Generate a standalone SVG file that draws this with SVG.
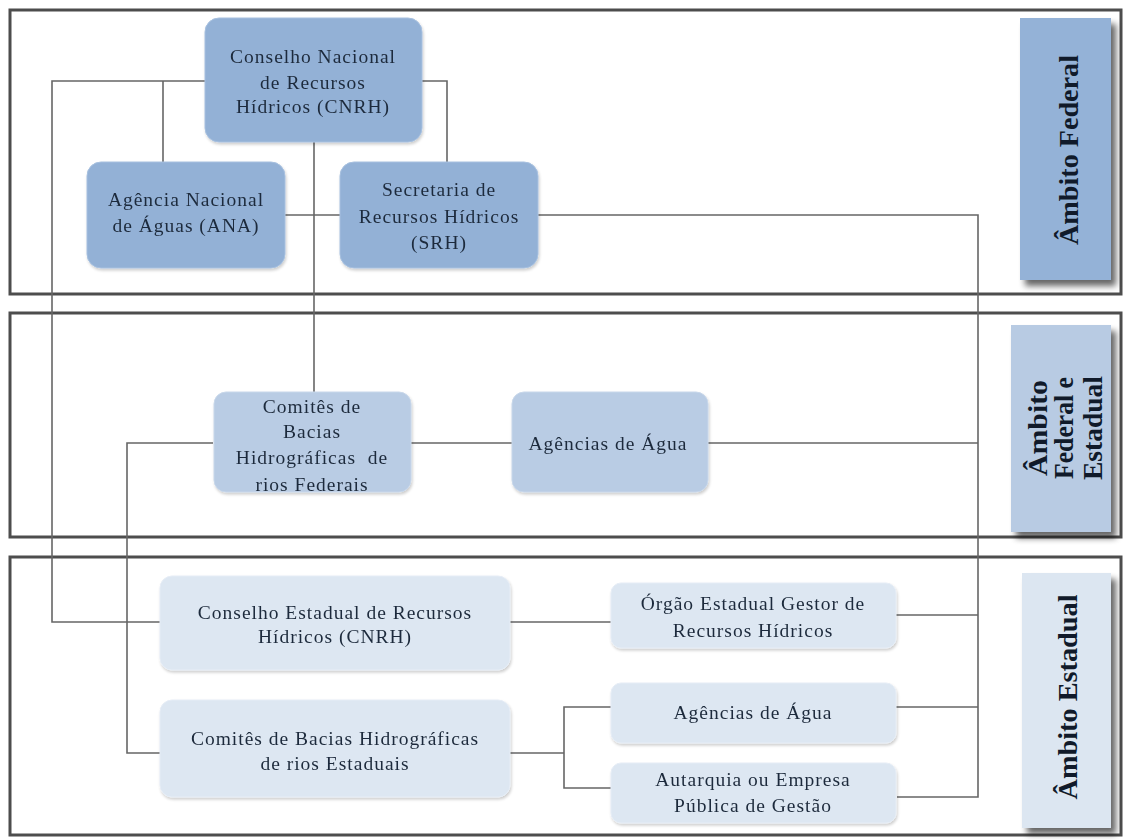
<svg xmlns="http://www.w3.org/2000/svg" width="1126" height="840" viewBox="0 0 1126 840">
<defs>
<filter id="sh" x="-10%" y="-10%" width="130%" height="130%">
<feGaussianBlur in="SourceAlpha" stdDeviation="3"/>
<feOffset dx="5" dy="6" result="b"/>
<feComponentTransfer><feFuncA type="linear" slope="0.6"/></feComponentTransfer>
<feMerge><feMergeNode/><feMergeNode in="SourceGraphic"/></feMerge>
</filter>
<filter id="nsh" x="-5%" y="-5%" width="110%" height="115%">
<feGaussianBlur in="SourceAlpha" stdDeviation="1.5"/>
<feOffset dx="1" dy="2"/>
<feComponentTransfer><feFuncA type="linear" slope="0.2"/></feComponentTransfer>
<feMerge><feMergeNode/><feMergeNode in="SourceGraphic"/></feMerge>
</filter>
</defs>
<style>
.panel{fill:none;stroke:#4d4d4d;stroke-width:3}
.c{fill:none;stroke:#666;stroke-width:1.6}
.n1{fill:#93b1d6;stroke:#a7c0df;stroke-width:1}
.n2{fill:#b9cce4;stroke:#c8d7ea;stroke-width:1}
.n3{fill:#dde7f2;stroke:#e6edf6;stroke-width:1}
.t{font-family:"Liberation Serif",serif;font-size:19.5px;letter-spacing:1px;fill:#1e2b3c;text-anchor:middle}
.lb{font-family:"Liberation Serif",serif;font-size:28px;font-weight:bold;fill:#101a2a;text-anchor:middle}
</style>
<rect width="1126" height="840" fill="#fff"/>

<g id="panels">
<rect class="panel" x="10" y="10" width="1111" height="284"/>
<rect class="panel" x="10" y="313" width="1111" height="224"/>
<rect class="panel" x="10" y="557" width="1111" height="278"/>
</g>

<g id="connectors">
<polyline class="c" points="205,81 52,81 52,622 160,622"/>
<polyline class="c" points="163,81 163,162"/>
<polyline class="c" points="420,81 447,81 447,162"/>
<line class="c" x1="314" y1="140" x2="314" y2="392"/>
<line class="c" x1="285" y1="215" x2="340" y2="215"/>
<polyline class="c" points="537,215 978,215 978,797 897,797"/>
<line class="c" x1="410" y1="443" x2="512" y2="443"/>
<line class="c" x1="708" y1="443" x2="978" y2="443"/>
<polyline class="c" points="213,443 127,443 127,753 160,753"/>
<line class="c" x1="510" y1="622" x2="611" y2="622"/>
<line class="c" x1="896" y1="615" x2="978" y2="615"/>
<line class="c" x1="896" y1="707" x2="978" y2="707"/>
<line class="c" x1="510" y1="753" x2="564" y2="753"/>
<polyline class="c" points="611,707 564,707 564,788 611,788"/>
</g>

<g id="label-federal">
<rect x="1020" y="18" width="91" height="262" fill="#94b2d7" filter="url(#sh)"/>
<text class="lb" transform="translate(1078,150) rotate(-90)" textLength="190" lengthAdjust="spacingAndGlyphs">Âmbito Federal</text>
</g>
<g id="label-federal-estadual">
<rect x="1011" y="325" width="100" height="207" fill="#b8cbe3" filter="url(#sh)"/>
<text class="lb" transform="translate(1047,428) rotate(-90)" textLength="96" lengthAdjust="spacingAndGlyphs">Âmbito</text>
<text class="lb" transform="translate(1073,428) rotate(-90)" textLength="102" lengthAdjust="spacingAndGlyphs">Federal e</text>
<text class="lb" transform="translate(1102,428) rotate(-90)" textLength="104" lengthAdjust="spacingAndGlyphs">Estadual</text>
</g>
<g id="label-estadual">
<rect x="1022" y="573" width="89" height="255" fill="#dce6f1" filter="url(#sh)"/>
<text class="lb" transform="translate(1077,697) rotate(-90)" textLength="205" lengthAdjust="spacingAndGlyphs">Âmbito Estadual</text>
</g>

<g id="cnrh" filter="url(#nsh)">
<rect class="n1" x="205" y="18" width="217" height="124" rx="14"/>
<text class="t" x="313" y="63">Conselho Nacional</text>
<text class="t" x="313" y="89">de Recursos</text>
<text class="t" x="313" y="113">Hídricos (CNRH)</text>
</g>
<g id="ana" filter="url(#nsh)">
<rect class="n1" x="87" y="162" width="198" height="106" rx="14"/>
<text class="t" x="186" y="206">Agência Nacional</text>
<text class="t" x="186" y="232">de Águas (ANA)</text>
</g>
<g id="srh" filter="url(#nsh)">
<rect class="n1" x="340" y="162" width="198" height="106" rx="14"/>
<text class="t" x="439" y="196">Secretaria de</text>
<text class="t" x="439" y="223">Recursos Hídricos</text>
<text class="t" x="439" y="249">(SRH)</text>
</g>

<g id="comites-federais" filter="url(#nsh)">
<rect class="n2" x="214" y="392" width="197" height="100" rx="12"/>
<text class="t" x="312" y="413">Comitês de</text>
<text class="t" x="312" y="438">Bacias</text>
<text class="t" x="312" y="464" xml:space="preserve">Hidrográficas  de</text>
<text class="t" x="312" y="491">rios Federais</text>
</g>
<g id="agencias-federais" filter="url(#nsh)">
<rect class="n2" x="512" y="392" width="196" height="100" rx="12"/>
<text class="t" x="608" y="450">Agências de Água</text>
</g>

<g id="conselho-estadual" filter="url(#nsh)">
<rect class="n3" x="160" y="576" width="350" height="94" rx="12"/>
<text class="t" x="335" y="619">Conselho Estadual de Recursos</text>
<text class="t" x="335" y="643">Hídricos (CNRH)</text>
</g>
<g id="comites-estaduais" filter="url(#nsh)">
<rect class="n3" x="160" y="700" width="350" height="97" rx="12"/>
<text class="t" x="335" y="745">Comitês de Bacias Hidrográficas</text>
<text class="t" x="335" y="770">de rios Estaduais</text>
</g>
<g id="orgao-estadual" filter="url(#nsh)">
<rect class="n3" x="611" y="583" width="285" height="65" rx="10"/>
<text class="t" x="753" y="610">Órgão Estadual Gestor de</text>
<text class="t" x="753" y="637">Recursos Hídricos</text>
</g>
<g id="agencias-estaduais" filter="url(#nsh)">
<rect class="n3" x="611" y="683" width="285" height="60" rx="10"/>
<text class="t" x="753" y="719">Agências de Água</text>
</g>
<g id="autarquia" filter="url(#nsh)">
<rect class="n3" x="611" y="763" width="285" height="60" rx="10"/>
<text class="t" x="753" y="786">Autarquia ou Empresa</text>
<text class="t" x="753" y="812">Pública de Gestão</text>
</g>
</svg>
